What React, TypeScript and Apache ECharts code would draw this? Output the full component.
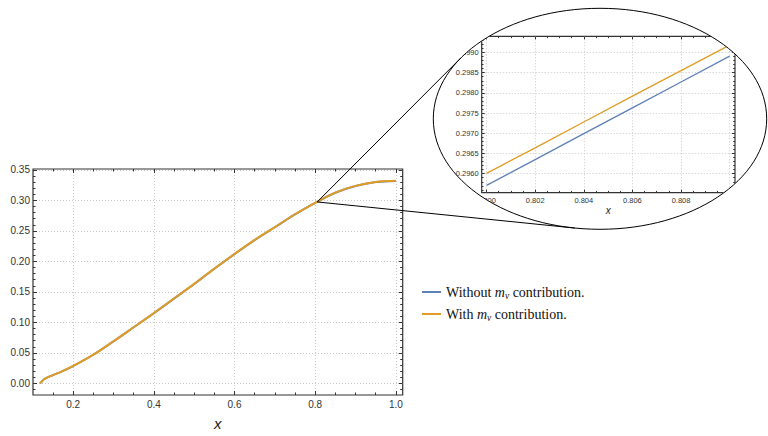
import React, { useEffect, useRef } from "react";
import * as echarts from "echarts";

// ---- Main plot data ----
const xs = [0.118, 0.122, 0.127, 0.135, 0.15, 0.175, 0.2, 0.25, 0.3, 0.35, 0.4, 0.45, 0.5, 0.55, 0.6, 0.65, 0.7, 0.75, 0.8, 0.85, 0.9, 0.95, 1.0];
const withoutVals = [0, 0.003, 0.0065, 0.0095, 0.0135, 0.0205, 0.0285, 0.047, 0.069, 0.092, 0.115, 0.139, 0.163, 0.188, 0.212, 0.235, 0.256, 0.277, 0.2958, 0.3125, 0.3235, 0.33, 0.332];
const withVals = [0, 0.003, 0.0065, 0.0095, 0.0135, 0.0205, 0.0286, 0.0471, 0.0691, 0.0921, 0.1152, 0.1392, 0.1632, 0.1882, 0.2122, 0.2352, 0.2562, 0.2773, 0.2961, 0.3128, 0.3238, 0.3303, 0.3323];

// ---- Inset data ----
const insetXs = [0.8, 0.802, 0.804, 0.806, 0.808, 0.81];
const insetWithout = [0.29571, 0.29635, 0.29699, 0.29763, 0.29827, 0.29891];
const insetWith = [0.29601, 0.29664, 0.29728, 0.29792, 0.29855, 0.29918];

// ---- Ticks ----
const mainXMajor = [0.2, 0.4, 0.6, 0.8, 1.0];
const mainXMinor = [0.15, 0.25, 0.3, 0.35, 0.45, 0.5, 0.55, 0.65, 0.7, 0.75, 0.85, 0.9, 0.95];
const mainYMajor = [0, 0.05, 0.1, 0.15, 0.2, 0.25, 0.3, 0.35];
const mainYMinor = [-0.01, 0.01, 0.02, 0.03, 0.04, 0.06, 0.07, 0.08, 0.09, 0.11, 0.12, 0.13, 0.14, 0.16, 0.17, 0.18, 0.19, 0.21, 0.22, 0.23, 0.24, 0.26, 0.27, 0.28, 0.29, 0.31, 0.32, 0.33, 0.34];
const insetXMajor = [0.8, 0.802, 0.804, 0.806, 0.808, 0.81];
const insetXMinor = [0.8005, 0.801, 0.8015, 0.8025, 0.803, 0.8035, 0.8045, 0.805, 0.8055, 0.8065, 0.807, 0.8075, 0.8085, 0.809, 0.8095];
const insetYMajor = [0.296, 0.2965, 0.297, 0.2975, 0.298, 0.2985, 0.299];
const insetYMinor = [0.2956, 0.2957, 0.2958, 0.2959, 0.2961, 0.2962, 0.2963, 0.2964, 0.2966, 0.2967, 0.2968, 0.2969, 0.2971, 0.2972, 0.2973, 0.2974, 0.2976, 0.2977, 0.2978, 0.2979, 0.2981, 0.2982, 0.2983, 0.2984, 0.2986, 0.2987, 0.2988, 0.2989, 0.2991, 0.2992, 0.2993];

const mainXRange = [0.1004, 1.017];
const mainYRange = [-0.019, 0.3515];
const insetXRange = [0.7998, 0.81022];
const insetYRange = [0.29553, 0.2994];

const seriesNames = ["Without mν contribution.", "With mν contribution."];
const BLUE = "#5E81B5";
const ORANGE = "#E19C24";
const FRAME = "#333333";

export default function App() {
  const ref = useRef<HTMLDivElement>(null);
  useEffect(() => {
    if (!ref.current) return;
    const chart = echarts.init(ref.current, undefined, { renderer: "svg" });

    const labelFont = { fontFamily: "Liberation Sans", color: "#333", fontSize: 10 };

    const makeAxes = (
      dim: "x" | "y",
      gridIndex: number,
      range: number[],
      major: number[],
      minor: number[],
      decimals: number,
      fontSize: number,
      majorLen: number,
      minorLen: number,
      name?: string,
      nameGap?: number,
      nameSize?: number
    ) => {
      const posA = dim === "x" ? "bottom" : "left";
      const posB = dim === "x" ? "top" : "right";
      const base = {
        type: "value",
        gridIndex,
        min: range[0],
        max: range[1],
        axisLine: { show: false, onZero: false },
        splitLine: { show: false },
        axisLabel: { show: false },
      };
      const tickStyle = { color: FRAME, width: 1 };
      const list: any[] = [];
      list.push({
        ...base,
        position: posA,
        name,
        nameLocation: "middle",
        nameGap,
        nameTextStyle: { fontFamily: "Liberation Sans", fontStyle: "italic", fontSize: nameSize, color: "#222" },
        axisTick: { show: true, inside: true, length: majorLen, lineStyle: tickStyle, customValues: major },
        axisLabel: {
          show: true,
          ...labelFont,
          fontSize,
          margin: dim === "x" ? 4 : 3,
          customValues: major,
          formatter: (v: number) => v.toFixed(decimals),
        },
        splitLine: { show: true, lineStyle: { color: "#c8c8c8", type: [1, 2], width: 1 } },
      });
      list.push({ ...base, position: posA, axisTick: { show: true, inside: true, length: minorLen, lineStyle: tickStyle, customValues: minor } });
      list.push({ ...base, position: posB, axisTick: { show: true, inside: true, length: majorLen, lineStyle: tickStyle, customValues: major } });
      list.push({ ...base, position: posB, axisTick: { show: true, inside: true, length: minorLen, lineStyle: tickStyle, customValues: minor } });
      return list;
    };

    const xAxes = [
      ...makeAxes("x", 0, mainXRange, mainXMajor, mainXMinor, 1, 10, 4, 2.5, "x", 21, 15),
      ...makeAxes("x", 1, insetXRange, insetXMajor, insetXMinor, 3, 7.5, 3, 1.8, "x", 12, 10),
    ];
    const yAxes = [
      ...makeAxes("y", 0, mainYRange, mainYMajor, mainYMinor, 2, 10, 4, 2.5),
      ...makeAxes("y", 1, insetYRange, insetYMajor, insetYMinor, 4, 7.5, 3, 1.8),
    ];

    const zip = (a: number[], b: number[]) => a.map((x, i) => [x, b[i]]);

    const option: any = {
      animation: false,
      backgroundColor: "#fff",
      grid: [
        { left: 33, top: 169, right: 365.3, bottom: 38.3, show: true, borderColor: FRAME, borderWidth: 1.2, backgroundColor: "transparent" },
        { left: 481.7, top: 36.3, right: 33, bottom: 243.3, show: true, borderColor: FRAME, borderWidth: 1.2, backgroundColor: "transparent" },
      ],
      xAxis: xAxes,
      yAxis: yAxes,
      legend: {
        orient: "vertical",
        left: 417,
        top: 280,
        itemGap: 6,
        itemWidth: 19,
        itemHeight: 2,
        icon: "rect",
        data: seriesNames,
        selectedMode: false,
        formatter: (n: string) => {
          const parts = n.split("mν");
          return `{t|${parts[0]}}{m|m}{s|ν}{t|${parts[1]}}`;
        },
        textStyle: {
          fontFamily: "Liberation Serif",
          fontSize: 14,
          color: "#111",
          rich: {
            t: { fontFamily: "Liberation Serif", fontSize: 14, lineHeight: 18, color: "#111" },
            m: { fontFamily: "Liberation Serif", fontStyle: "italic", fontSize: 14, lineHeight: 18, color: "#111" },
            s: { fontFamily: "Liberation Serif", fontStyle: "italic", fontSize: 9.5, lineHeight: 11, verticalAlign: "bottom", color: "#111" },
          },
        },
      },
      series: [
        { name: seriesNames[0], type: "line", xAxisIndex: 0, yAxisIndex: 0, data: zip(xs, withoutVals), showSymbol: false, smooth: 0.35, lineStyle: { color: BLUE, width: 2 }, itemStyle: { color: BLUE } },
        { name: seriesNames[1], type: "line", xAxisIndex: 0, yAxisIndex: 0, data: zip(xs, withVals), showSymbol: false, smooth: 0.35, lineStyle: { color: ORANGE, width: 2 }, itemStyle: { color: ORANGE } },
        { name: seriesNames[0], type: "line", xAxisIndex: 4, yAxisIndex: 4, data: zip(insetXs, insetWithout), showSymbol: false, clip: true, lineStyle: { color: BLUE, width: 1.3 }, itemStyle: { color: BLUE } },
        { name: seriesNames[1], type: "line", xAxisIndex: 4, yAxisIndex: 4, data: zip(insetXs, insetWith), showSymbol: false, clip: true, lineStyle: { color: ORANGE, width: 1.3 }, itemStyle: { color: ORANGE } },
      ],
    };
    chart.setOption(option);

    // zoom lens geometry
    const cx = 600, cy = 118.8, rx = 166.7, ry = 110.5;
    const focus = chart.convertToPixel({ xAxisIndex: 0, yAxisIndex: 0 }, [
      (insetXRange[0] + insetXRange[1]) / 2,
      (insetYRange[0] + insetYRange[1]) / 2,
    ]) as number[];
    const u = (focus[0] - cx) / rx;
    const v = (focus[1] - cy) / ry;
    const r = Math.sqrt(u * u + v * v);
    const phi = Math.atan2(v, u);
    const d = Math.acos(1 / r);
    const tan = [phi + d, phi - d].map((t) => [cx + rx * Math.cos(t), cy + ry * Math.sin(t)]);
    const band = 28;

    chart.setOption({
      graphic: [
        { type: "ellipse", z: 100, silent: true, shape: { cx, cy, rx: rx + band / 2, ry: ry + band / 2 }, style: { fill: "none", stroke: "#fff", lineWidth: band } },
        { type: "ellipse", z: 101, silent: true, shape: { cx, cy, rx, ry }, style: { fill: "none", stroke: "#000", lineWidth: 1 } },
        { type: "line", z: 101, silent: true, shape: { x1: focus[0], y1: focus[1], x2: tan[0][0], y2: tan[0][1] }, style: { stroke: "#000", lineWidth: 1 } },
        { type: "line", z: 101, silent: true, shape: { x1: focus[0], y1: focus[1], x2: tan[1][0], y2: tan[1][1] }, style: { stroke: "#000", lineWidth: 1 } },
      ],
    });

    return () => chart.dispose();
  }, []);
  return <div ref={ref} style={{ position: "fixed", left: 0, top: 0, width: 768, height: 436 }} />;
}
